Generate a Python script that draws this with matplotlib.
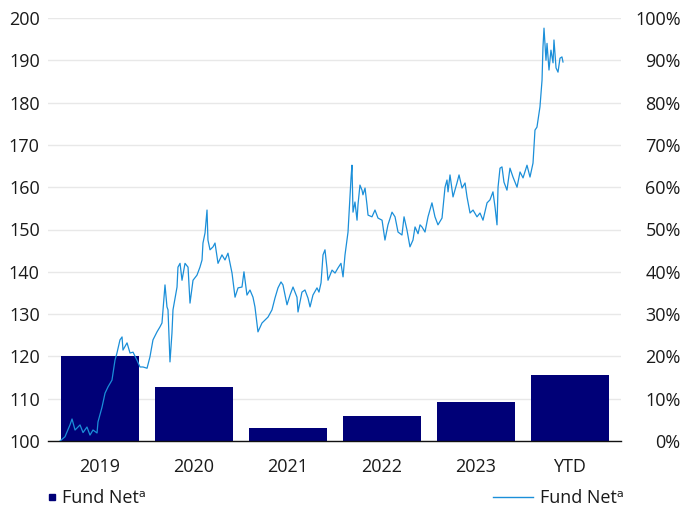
import numpy as np
import matplotlib
matplotlib.use("Agg")
import matplotlib.pyplot as plt
from matplotlib.lines import Line2D

plt.rcParams['font.family'] = ['Open Sans', 'DejaVu Sans']

# calendar-year returns (bars, right axis)
categories = ['2019', '2020', '2021', '2022', '2023', 'YTD']
annual_returns = [0.201, 0.128, 0.031, 0.059, 0.092, 0.156]

# growth of 100 (line, left axis), time in decimal years
t = [2019.000, 2019.053, 2019.106, 2019.128, 2019.160, 2019.213, 2019.245, 2019.287,
     2019.319, 2019.351, 2019.394, 2019.404, 2019.447, 2019.479, 2019.511, 2019.553,
     2019.585, 2019.606, 2019.638, 2019.660, 2019.670, 2019.713, 2019.745, 2019.777,
     2019.819, 2019.851, 2019.883, 2019.926, 2019.957, 2019.989, 2020.032, 2020.064,
     2020.085, 2020.117, 2020.138, 2020.149, 2020.170, 2020.191, 2020.202, 2020.245,
     2020.255, 2020.277, 2020.298, 2020.330, 2020.362, 2020.383, 2020.415, 2020.457,
     2020.489, 2020.511, 2020.521, 2020.543, 2020.564, 2020.574, 2020.596, 2020.628,
     2020.649, 2020.681, 2020.723, 2020.755, 2020.787, 2020.830, 2020.862, 2020.894,
     2020.936, 2020.957, 2020.989, 2021.021, 2021.053, 2021.074, 2021.106, 2021.149,
     2021.181, 2021.213, 2021.255, 2021.287, 2021.319, 2021.351, 2021.372, 2021.415,
     2021.447, 2021.479, 2021.521, 2021.532, 2021.574, 2021.606, 2021.638, 2021.660,
     2021.691, 2021.734, 2021.755, 2021.777, 2021.798, 2021.819, 2021.840, 2021.851,
     2021.894, 2021.926, 2021.957, 2021.989, 2022.011, 2022.032, 2022.053, 2022.064,
     2022.074, 2022.096, 2022.106, 2022.117, 2022.138, 2022.160, 2022.170, 2022.191,
     2022.213, 2022.223, 2022.245, 2022.266, 2022.277, 2022.319, 2022.351, 2022.383,
     2022.426, 2022.457, 2022.489, 2022.532, 2022.564, 2022.596, 2022.638, 2022.660,
     2022.691, 2022.723, 2022.755, 2022.777, 2022.809, 2022.830, 2022.851, 2022.883,
     2022.915, 2022.957, 2022.989, 2023.021, 2023.064, 2023.096, 2023.117, 2023.128,
     2023.149, 2023.181, 2023.223, 2023.245, 2023.277, 2023.309, 2023.330, 2023.362,
     2023.394, 2023.436, 2023.468, 2023.500, 2023.543, 2023.574, 2023.606, 2023.628,
     2023.649, 2023.660, 2023.681, 2023.702, 2023.723, 2023.755, 2023.787, 2023.819,
     2023.862, 2023.894, 2023.926, 2023.968, 2024.000, 2024.032, 2024.053, 2024.074,
     2024.085, 2024.106, 2024.128, 2024.138, 2024.149, 2024.170, 2024.181, 2024.202,
     2024.223, 2024.245, 2024.255, 2024.277, 2024.298, 2024.319, 2024.340, 2024.351]
nav = [100.0, 101.0, 103.8, 105.2, 102.6, 103.8, 102.0, 103.3,
       101.4, 102.6, 101.9, 104.5, 108.0, 111.3, 112.8, 114.4,
       119.1, 120.8, 123.9, 124.6, 121.5, 123.2, 120.8, 121.0,
       119.1, 117.5, 117.5, 117.2, 119.9, 123.9, 125.8, 127.0,
       127.9, 136.9, 131.7, 131.0, 118.7, 125.5, 131.0, 136.4,
       141.1, 142.0, 138.0, 142.0, 141.1, 132.6, 138.0, 139.2,
       141.1, 142.8, 146.8, 149.2, 154.6, 147.5, 145.2, 145.9,
       146.8, 142.0, 144.0, 142.8, 144.4, 139.7, 134.0, 136.2,
       136.4, 140.0, 134.5, 135.7, 134.0, 131.7, 125.8, 127.9,
       128.6, 129.3, 131.0, 133.8, 136.2, 137.6, 136.9, 132.2,
       134.5, 136.4, 134.0, 130.5, 135.2, 135.7, 133.8, 131.7,
       134.5, 136.2, 135.2, 137.4, 144.0, 145.2, 140.9, 138.0,
       140.4, 139.7, 140.9, 142.0, 138.8, 144.0, 147.5, 149.4,
       153.4, 162.2, 165.2, 154.1, 156.5, 152.2, 155.8, 160.5,
       159.3, 158.2, 159.8, 155.8, 153.4, 153.0, 154.6, 152.7,
       152.2, 147.5, 151.1, 154.1, 153.0, 149.4, 148.7, 153.0,
       149.9, 145.9, 147.5, 150.6, 149.0, 151.1, 150.6, 149.4,
       153.0, 156.3, 153.0, 151.1, 152.7, 160.0, 161.7, 158.9,
       162.9, 157.7, 161.0, 162.9, 159.8, 161.0, 157.7, 153.9,
       154.6, 153.0, 153.9, 152.2, 156.3, 157.0, 158.9, 155.3,
       151.1, 160.0, 164.5, 164.8, 161.2, 159.3, 164.5, 162.4,
       160.0, 163.6, 162.2, 165.2, 162.4, 165.7, 173.5, 174.2,
       175.9, 179.0, 185.3, 193.1, 197.6, 190.0, 194.0, 187.7,
       192.4, 189.4, 194.8, 188.2, 187.2, 190.5, 190.8, 189.6]

bar_color = '#000077'
line_color = '#1b8fd9'
text_color = '#1a1a1a'
fs = 13

fig = plt.figure(figsize=(6.84, 5.12), dpi=100)
rect = [48 / 684, 1 - 441 / 512, (621 - 48) / 684, (441 - 18) / 512]

# bars, percentage axis on the right
ax = fig.add_axes(rect)
x = np.arange(len(categories))
ax.bar(x, annual_returns, width=0.83, color=bar_color, zorder=2)
ax.set_xlim(-0.553, 5.543)
ax.set_ylim(0, 1.0)
ax.set_xticks(x)
ax.set_xticklabels(categories)
ax.set_yticks(np.arange(0, 1.01, 0.1))
ax.set_yticklabels([f'{int(round(v * 100))}%' for v in np.arange(0, 1.01, 0.1)])
ax.yaxis.tick_right()
ax.tick_params(axis='y', length=0, pad=43, labelsize=fs, labelcolor=text_color)
for lab in ax.get_yticklabels():
    lab.set_horizontalalignment('right')
ax.tick_params(axis='x', length=0, pad=12, labelsize=fs, labelcolor=text_color)
ax.grid(axis='y', color='#e8e8e8', linewidth=1)
ax.set_axisbelow(True)
for s in ['top', 'left', 'right']:
    ax.spines[s].set_visible(False)
ax.spines['bottom'].set_color('#111111')
ax.spines['bottom'].set_linewidth(1)
ax.spines['bottom'].set_zorder(5)

# line, index axis on the left
ax2 = fig.add_axes(rect)
ax2.patch.set_visible(False)
ax2.plot(t, nav, color=line_color, linewidth=0.9)
ax2.set_xlim(2019 + (48 - 60) / 94, 2019 + (621 - 60) / 94)
ax2.set_ylim(100, 200)
ax2.set_yticks(np.arange(100, 201, 10))
ax2.set_xticks([])
ax2.tick_params(axis='y', length=0, pad=6, labelsize=fs, labelcolor=text_color)
for s in ax2.spines.values():
    s.set_visible(False)

# legends along the bottom
bar_handle = Line2D([], [], linestyle='none', marker='s', markersize=5,
                    color=bar_color)
line_handle = Line2D([], [], color=line_color, linewidth=1)
fig.legend([bar_handle], ['Fund Net\u1d43'], loc='center left',
           bbox_to_anchor=(30 / 684, 1 - 498 / 512), frameon=False,
           fontsize=fs, handlelength=0.6, handletextpad=0.3,
           labelcolor=text_color)
fig.legend([line_handle], ['Fund Net\u1d43'], loc='center right',
           bbox_to_anchor=(640 / 684, 1 - 498 / 512), frameon=False,
           fontsize=fs, handlelength=2.2, handletextpad=0.4,
           labelcolor=text_color)

fig.savefig('out.png', dpi=100)
